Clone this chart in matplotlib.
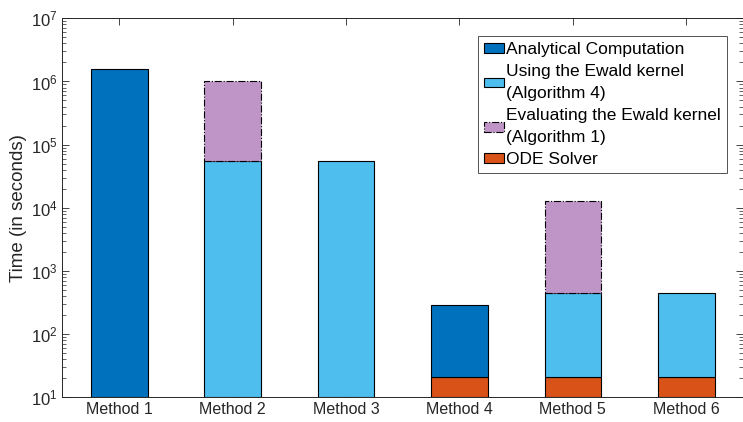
import numpy as np
import matplotlib
matplotlib.use("Agg")
import matplotlib.pyplot as plt
from matplotlib.ticker import LogLocator, NullFormatter

plt.rcParams['font.family'] = ['Liberation Sans', 'DejaVu Sans']
plt.rcParams['mathtext.fontset'] = 'custom'
plt.rcParams['mathtext.rm'] = 'Liberation Sans'
plt.rcParams['mathtext.it'] = 'Liberation Sans:italic'

methods = ["Method 1", "Method 2", "Method 3", "Method 4", "Method 5", "Method 6"]
# segment values (stack order: ODE, Analytical, Ewald kernel, Evaluating)
ode_solver = [0, 0, 0, 21.3, 21.3, 21.3]
analytical = [1.59e6, 0, 0, 269, 0, 0]
ewald_alg4 = [0, 5.45e4, 5.45e4, 0, 433, 433]
eval_alg1 = [0, 9.455e5, 0, 0, 12270, 0]

labels = ["Analytical Computation", "Using the Ewald kernel\n(Algorithm 4)",
          "Evaluating the Ewald kernel\n(Algorithm 1)", "ODE Solver"]
colors = {"an": "#0072BD", "ew": "#4DBEEE", "ev": "#BE95C6", "ode": "#D95319"}

ymin, ymax = 10, 1e7

fig = plt.figure(figsize=(7.43, 4.22), dpi=100)
ax = fig.add_axes([62.5/743, (422-397.3)/422, (743-62.5)/743, (397.3-18.3)/422])

x = np.arange(1, len(methods) + 1)
w = 0.5
cum = np.zeros(len(methods))
stack = [("ode", ode_solver, "-"), ("an", analytical, "-"),
         ("ew", ewald_alg4, "-"), ("ev", eval_alg1, "-.")]
handles = {}
for key, vals, ls in stack:
    vals = np.asarray(vals, float)
    bottoms = np.where(cum > 0, cum, ymin)
    tops = cum + vals
    heights = tops - bottoms
    mask = vals > 0
    b = ax.bar(x[mask], heights[mask], w, bottom=bottoms[mask], color=colors[key],
               edgecolor="black", linewidth=0.8, linestyle=ls, zorder=2)
    handles[key] = b
    cum = tops

ax.set_yscale("log")
ax.set_ylim(ymin, ymax)
ax.set_xlim(0.5, 6.5)
ax.set_xticks(x)
ax.set_xticklabels(methods)
ax.yaxis.set_major_locator(LogLocator(base=10, numticks=10))
ax.yaxis.set_minor_locator(LogLocator(base=10, subs=np.arange(2, 10), numticks=20))
ax.yaxis.set_minor_formatter(NullFormatter())
ax.tick_params(axis="both", which="both", direction="in", top=True, right=True,
               colors="#262626", zorder=3)
ax.tick_params(which="major", length=5, width=0.6)
ax.tick_params(which="minor", length=3, width=0.5)
ax.tick_params(axis="x", which="major", labelsize=11.5)
ax.tick_params(axis="y", which="major", labelsize=12)
for sp in ax.spines.values():
    sp.set_color("#262626")
    sp.set_linewidth(0.7)
    sp.set_zorder(4)
ax.set_ylabel("Time (in seconds)", fontsize=13.5, color="#262626", labelpad=3)

leg = fig.legend([handles["an"], handles["ew"], handles["ev"], handles["ode"]], labels,
                 loc="upper right", bbox_to_anchor=(727/743, 1 - 36/422),
                 fontsize=12.5, frameon=True, fancybox=False, edgecolor="#262626",
                 handlelength=1.1, handleheight=0.5, handletextpad=0.15,
                 labelspacing=0.4, borderpad=0.35, borderaxespad=0)
leg.get_frame().set_linewidth(0.7)
for t in leg.get_texts():
    t.set_linespacing(1.6)

fig.savefig("out.png", dpi=100)
